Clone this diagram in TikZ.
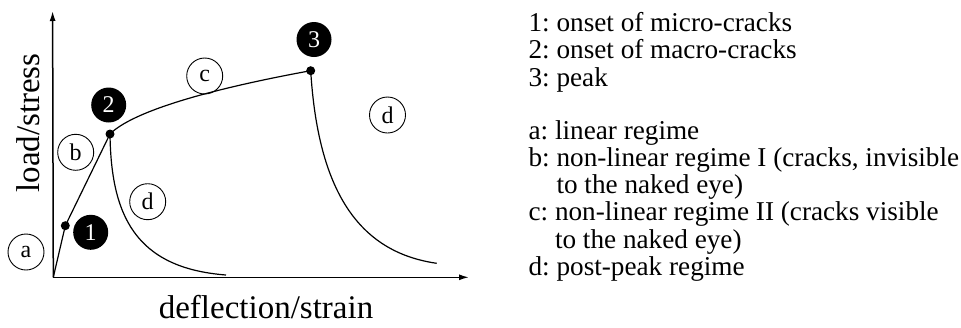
\documentclass[tikz,border=0pt]{standalone}
\usepackage{fontspec}
\setmainfont{Liberation Serif}
\usetikzlibrary{arrows.meta}
\frenchspacing

\tikzset{
  regime/.style={circle, draw, line width=0.9pt, minimum size=36pt, inner sep=0pt,
    font=\fontsize{24}{24}\selectfont},
  stage/.style={circle, fill=black, text=white, minimum size=35pt, inner sep=0pt,
    font=\fontsize{24}{24}\selectfont},
  legend/.style={anchor=base west, inner sep=0pt, font=\fontsize{27.2}{27}\selectfont},
  axislabel/.style={anchor=base, inner sep=0pt, font=\fontsize{33}{33}\selectfont},
}

\begin{document}
\begin{tikzpicture}[x=1pt, y=-1pt, line width=1.2pt]
  \useasboundingbox (0,0) rectangle (961,327);

  \coordinate (o)    at (53.3,277.3);
  \coordinate (ytop) at (52.6,11);
  \coordinate (xend) at (469,277.3);
  \coordinate (p1)   at (65.3,225.7);
  \coordinate (p2)   at (110,134);
  \coordinate (p3)   at (310.7,70.7);
  \coordinate (e1)   at (226,275);
  \coordinate (e2)   at (436.7,263.3);

  \draw[line width=1.5pt, -{Latex[length=10pt,width=6pt]}] (o) -- (ytop);
  \draw[line width=1.5pt, -{Latex[length=10pt,width=6pt]}] (o) -- (xend);

  \draw (o) -- (p1) -- (p2) .. controls (132,112) and (205,90) .. (p3);
  \draw (p2) .. controls (111,215) and (135,268) .. (e1);
  \draw (p3) .. controls (318,190) and (358,252) .. (e2);

  \foreach \i in {1,2,3}{\fill (p\i) circle (4.5);}

  \node[stage] (s1) at (90.7,232.3) {1};
  \node[stage] (s2) at (108.7,105)  {2};
  \node[stage] (s3) at (314,39.5)   {3};

  \node[regime] (ra)  at (26,252)     {a};
  \node[regime] (rb)  at (75.7,152.3) {b};
  \node[regime] (rc)  at (204.7,76)   {c};
  \node[regime] (rd1) at (147.7,201.7) {d};
  \node[regime] (rd2) at (387.5,115)  {d};

  \node[axislabel, rotate=90] (ylab) at (39,123) {load/stress};
  \node[axislabel] (xlab) at (266,318) {deflection/strain};

  \node[legend] (l1) at (528,31.5)  {1: onset of micro-cracks};
  \node[legend] (l2) at (528,58.8)  {2: onset of macro-cracks};
  \node[legend] (l3) at (528,86.1)  {3: peak};
  \node[legend] (la) at (528,139)   {a: linear regime};
  \node[legend] (lb) at (528,166.3) {b: non-linear regime I (cracks, invisible};
  \node[legend] (lb2) at (528,193.6) {\phantom{b:} to the naked eye)};
  \node[legend] (lc) at (528,220.9) {c: non-linear regime II (cracks visible};
  \node[legend] (lc2) at (528,248.2) {\phantom{c:} to the naked eye)};
  \node[legend] (ld) at (528,275.5) {d: post-peak regime};
\end{tikzpicture}
\end{document}
